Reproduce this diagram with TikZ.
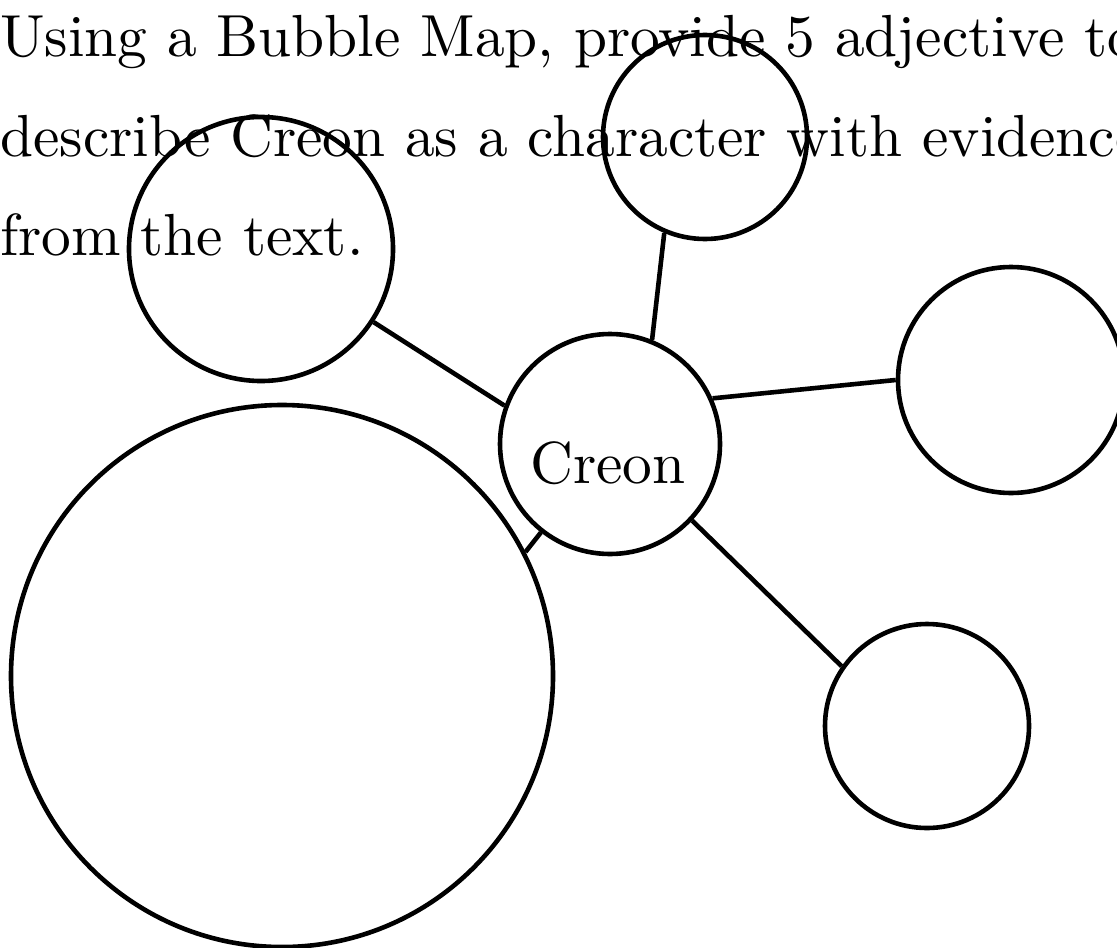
\documentclass[tikz,border=0pt]{standalone}
\usepackage{fontspec}
\newfontfamily\lmten{lmroman10-regular.otf}
\begin{document}
\begin{tikzpicture}[x=0.5pt,y=-0.5pt,
  bubble/.style={draw=black,circle,line width=2.3pt,inner sep=0pt},
  link/.style={draw=black,line width=2.3pt},
  prompt/.style={anchor=base west,inner sep=0pt,font=\lmten\fontsize{29.7}{40}\selectfont},
  label/.style={anchor=base,inner sep=0pt,font=\lmten\fontsize{29.7}{40}\selectfont}]
\useasboundingbox (0,0) rectangle (1117,947);
\node[prompt] (t1) at (0,57) {Using a Bubble Map, provide 5 adjective to};
\node[prompt] (t2) at (0,156) {describe Creon as a character with evidence};
\node[prompt] (t3) at (0,255) {from the text.};
\node[bubble,minimum size=110pt] (creon) at (610,444) {};
\node[label] (creontext) at (608,483) {Creon};
\node[bubble,minimum size=102pt] (top) at (705,137) {};
\node[bubble,minimum size=132pt] (tl) at (261,249) {};
\node[bubble,minimum size=113pt] (right) at (1011,380) {};
\node[bubble,minimum size=102pt] (br) at (927,726) {};
\node[bubble,minimum size=271pt] (big) at (282,676) {};
\draw[link] (creon.68.6) -- (top.247.3);
\draw[link] (creon.160.7) -- (tl.-33.6);
\draw[link] (creon.24.3) -- (right.180.5);
\draw[link] (creon.-43.9) -- (br.145.7);
\draw[link] (creon.232.2) -- (big.27.4);
\end{tikzpicture}
\end{document}
